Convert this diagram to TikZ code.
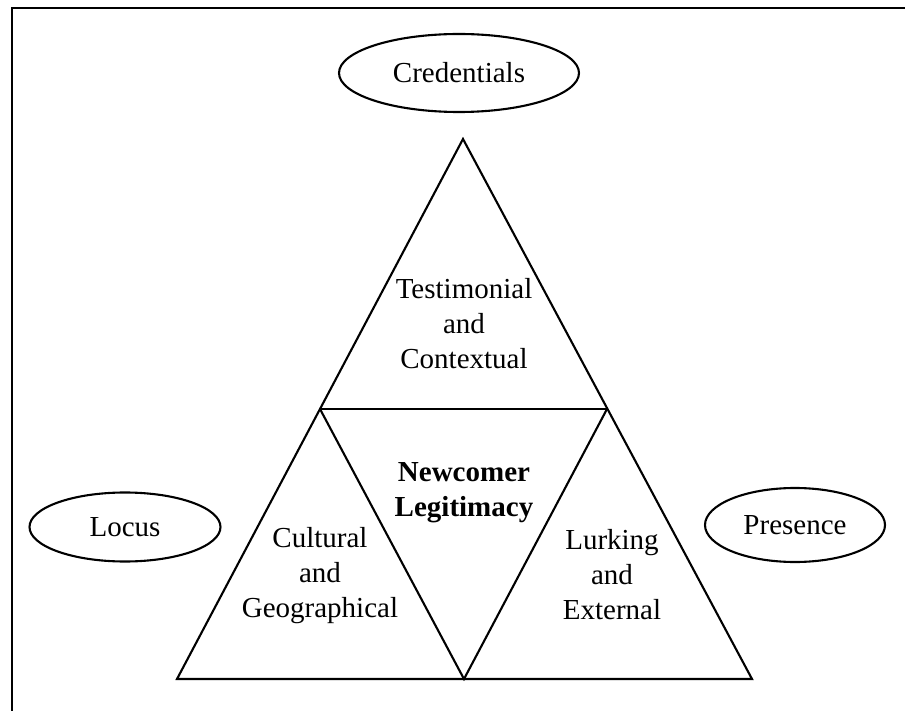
\documentclass[tikz,border=0pt]{standalone}
\usepackage{fontspec}
\setmainfont{Liberation Serif}
\usetikzlibrary{shapes.geometric}
\begin{document}
\begin{tikzpicture}[x=1pt,y=-1pt,line width=2.1pt,line join=miter,
  lbl/.style={align=center,font=\fontsize{29}{35}\selectfont,inner sep=0pt},
  oval/.style={ellipse,draw,line width=2.1pt,inner sep=0pt,font=\fontsize{29}{35}\selectfont}]
\useasboundingbox (0,0) rectangle (905,711);
\coordinate (fb) at (12,711);
\coordinate (fc) at (12,8);
\coordinate (fr) at (905,8);
\draw[line width=2.4pt] (fb) -- (fc) -- (fr);
% triangle vertices
\coordinate (A) at (463,139);
\coordinate (L) at (177,679);
\coordinate (R) at (752,679);
\coordinate (ML) at (320,409);
\coordinate (MR) at (607,409);
\coordinate (MB) at (464,679);
\draw (A) -- (L) -- (R) -- cycle;
\draw (ML) -- (MR);
\draw (ML) -- (MB) -- (MR);
% ovals
\node[oval,minimum width=240,minimum height=78] (cred) at (459,73) {Credentials};
\node[oval,minimum width=191,minimum height=69] (locus) at (125,527) {Locus};
\node[oval,minimum width=180,minimum height=74] (pres) at (795,525) {Presence};
% labels
\node[lbl] (test) at (464,324) {Testimonial\\and\\Contextual};
\node[lbl,font=\fontsize{29}{35}\selectfont\bfseries] (newc) at (464,493) {Newcomer\\Legitimacy};
\node[lbl] (cult) at (320,576) {Cultural\\and\\Geographical};
\node[lbl] (lurk) at (612,575) {Lurking\\and\\External};
\end{tikzpicture}
\end{document}
